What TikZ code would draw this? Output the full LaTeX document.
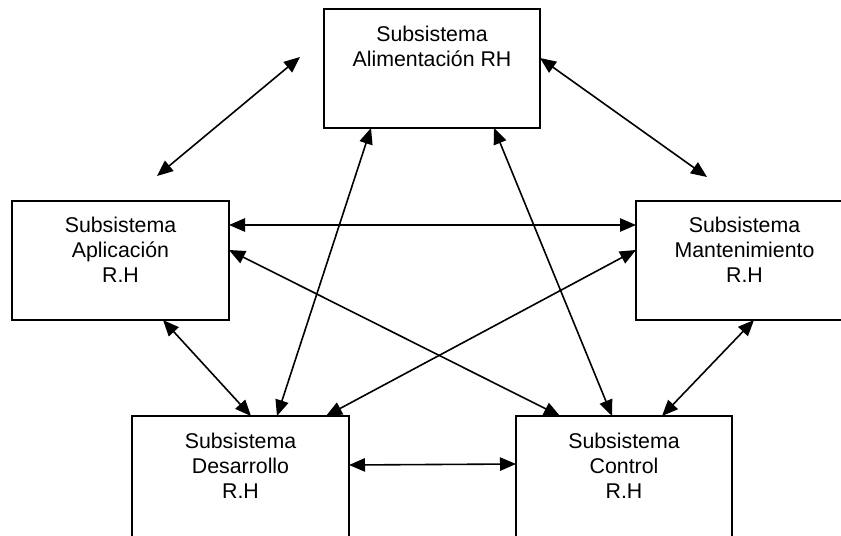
\documentclass[tikz,border=0pt]{standalone}
\usepackage{fontspec}
\setmainfont{Liberation Sans}
\usetikzlibrary{arrows.meta,calc}
\begin{document}
\begin{tikzpicture}[x=0.75pt,y=-0.75pt,
  box/.style={draw,line width=1.2pt,rectangle,inner sep=0pt,outer sep=0pt,anchor=north west},
  lbl/.style={anchor=north,align=center,inner sep=0pt,font=\fontsize{16}{18.5}\selectfont},
  link/.style={line width=1.2pt,{Triangle[length=12pt,width=10pt]}-{Triangle[length=12pt,width=10pt]}}]
\clip (0,0) rectangle (841,535);
\node[box,minimum width=162pt,minimum height=89.25pt] (A) at (324,9) {};
\node[box,minimum width=162.75pt,minimum height=89.25pt] (B) at (12,201) {};
\node[box,minimum width=162.75pt,minimum height=89.25pt] (C) at (636,201) {};
\node[box,minimum width=162.75pt,minimum height=91pt] (D) at (132,416) {};
\node[box,minimum width=162pt,minimum height=91pt] (E) at (516,416) {};
\node[lbl] (tA) at ($(A.north)+(0,17)$) {Subsistema\\Alimentación RH};
\node[lbl] (tB) at ($(B.north)+(0,16)$) {Subsistema\\Aplicación\\R.H};
\node[lbl] (tC) at ($(C.north)+(0,16)$) {Subsistema\\Mantenimiento\\R.H};
\node[lbl] (tD) at ($(D.north)+(0,17)$) {Subsistema\\Desarrollo\\R.H};
\node[lbl] (tE) at ($(E.north)+(0,17)$) {Subsistema\\Control\\R.H};
\coordinate (p1) at (157,176);
\coordinate (p2) at (300,57);
\coordinate (p3) at (707,177);
\draw[link] (p1) -- (p2);
\draw[link] ($(A.north east)+(0,49)$) -- (p3);
\draw[link] ($(B.north east)+(0,24)$) -- ($(C.north west)+(0,24)$);
\draw[link] ($(B.north east)+(0,49)$) -- ($(E.north west)+(44,0)$);
\draw[link] ($(C.north west)+(0,49)$) -- ($(D.north west)+(194,0)$);
\draw[link] ($(B.south west)+(151,0)$) -- ($(D.north west)+(119,0)$);
\draw[link] ($(A.south west)+(47,0)$) -- ($(D.north west)+(145,0)$);
\draw[link] ($(A.south west)+(170,0)$) -- ($(E.north west)+(96,0)$);
\draw[link] ($(C.south west)+(118,0)$) -- ($(E.north west)+(146,0)$);
\draw[link] ($(D.north east)+(0,49)$) -- ($(E.north west)+(0,48)$);
\end{tikzpicture}
\end{document}
